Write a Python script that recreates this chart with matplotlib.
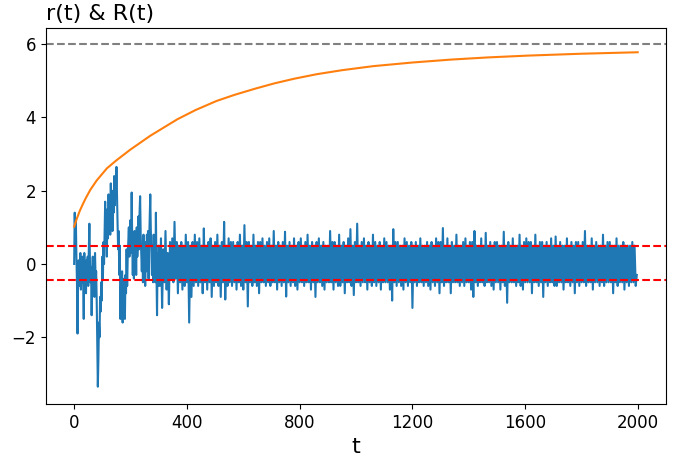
import numpy as np
import matplotlib
matplotlib.use("Agg")
import matplotlib.pyplot as plt

r_early = [
    0.0, 1.4, 0.6, 1.2, 0.2, -0.5, -1.9, -0.4, 0.1, -0.6,
    -0.2, 0.3, -0.7, 0.0, -0.5, 0.2, -0.4, -1.5, 0.3, -0.6,
    -0.2, -0.8, 0.1, -0.4, 0.2, -0.6, 0.4, 1.1, 0.1, -0.5,
    -0.1, -1.4, -0.4, 0.2, -0.7, -0.1, -0.9, 0.3, -0.4, -0.2,
    -1.0, -2.2, -3.35, -2.6, -1.6, -2.0, -0.9, -1.3, -0.5, -1.0,
    0.2, -0.4, 0.6, 0.0, 0.9, 1.7, 0.5, 1.2, 0.2, 1.5,
    0.7, 1.9, 1.0, 1.5, 0.8, 2.2, 1.3, 1.7, 0.9, 2.0,
    1.4, 2.4, 1.6, 2.2, 1.9, 2.65, 1.8, 1.1, 0.4, 0.9,
    -0.3, 0.5, -1.5, -0.6, -1.2, -0.2, -1.6, -0.5, -1.1, -0.4,
    -1.5, -0.3, -0.8, 0.4, -0.6, 0.2, 0.6, 1.0, 0.2, 0.7,
    1.2, 0.3, 1.95, 0.6, -0.3, 0.7, -0.4, 0.9, 0.0, 0.6,
    -0.3, 1.0, 0.2, 0.6, 1.3, 0.4, 1.4, 1.85, 0.8, 0.3,
    -0.2, 0.5, -0.5, 0.8, 0.1, 0.6, -0.6, 0.6, -0.2, 0.8,
    0.0, 0.9, -0.4, 0.6, 1.2, 1.9, 0.9, 0.3, -0.3, 0.5,
    -0.5, 0.8, 0.1, 0.7, -0.5, 1.4, -0.2, -1.4, 0.3, -0.6,
]

# r(t) from step 300 on, every 4 steps, one row per 100 steps
r_late = [
    0.5, -0.6, 0.7, -1.2, 0.4, -0.5, 0.9, -0.7, 0.3, -1.1, 0.6, -0.4, 0.7, -0.5, 1.15, -0.4, 0.6, -0.8, 0.5, -0.5, 0.6, -0.7, 0.5, -0.6, 0.8,
    -0.5, 0.6, -1.6, 0.5, -0.9, 0.6, -0.6, 0.8, -0.5, 0.6, -0.6, 0.7, -0.5, 0.5, -0.8, 0.97, -0.5, 0.5, -0.7, 0.6, -0.5, 0.7, -0.9, 0.5, -0.6,
    0.6, -0.5, 0.8, -0.6, 0.5, -0.9, 0.6, -0.5, 1.15, -0.97, 0.5, -0.6, 0.7, -0.5, 0.6, -0.6, 0.6, -0.5, 0.5, -0.7, 0.6, -0.5, 0.8, -0.6, 0.5,
    -0.7, 1.06, -0.5, 0.6, -1.16, 0.6, -0.5, 0.5, -0.6, 0.8, -0.5, 0.5, -0.6, 0.6, -0.8, 0.6, -0.5, 0.7, -0.5, 0.5, -0.6, 0.6, -0.5, 0.7, -0.6,
    0.5, -0.5, 0.9, -0.5, 0.5, -0.7, 0.6, -0.5, 0.5, -0.6, 0.6, -0.5, 0.88, -0.89, 0.5, -0.5, 0.6, -0.6, 0.5, -0.5, 0.7, -0.6, 0.5, -0.7, 0.6,
    -0.5, 0.7, -0.5, 0.5, -0.6, 0.6, -0.5, 0.8, -0.5, 0.5, -0.7, 0.6, -0.5, 0.5, -0.9, 0.6, -0.5, 0.7, -0.5, 0.5, -0.6, 0.6, -0.7, 0.5, -0.5,
    0.5, -0.5, 0.9, -0.5, 0.6, -0.7, 0.6, -0.5, 0.5, -0.6, 0.8, -0.6, 0.5, -0.5, 0.6, -0.8, 0.5, -0.5, 0.7, -0.5, 0.95, -0.6, 0.5, -0.85, 0.6,
    -0.5, 1.1, -0.5, 0.5, -0.6, 0.6, -0.5, 0.7, -0.5, 0.5, -0.7, 0.6, -0.5, 0.5, -0.6, 0.8, -0.5, 0.6, -0.6, 0.5, -0.5, 0.6, -0.7, 0.5, -0.5,
    0.7, -0.5, 0.6, -0.5, 0.5, -0.7, 0.5, -1.0, 0.95, -0.5, 0.6, -0.6, 0.6, -0.5, 0.5, -0.6, 0.5, -0.7, 0.7, -0.5, 0.6, -0.6, 0.5, -0.5, 0.6,
    -1.2, 0.5, -0.5, 0.6, -0.6, 0.5, -0.5, 0.7, -0.5, 0.5, -0.6, 0.5, -0.5, 0.6, -0.6, 0.5, -0.7, 0.6, -0.5, 0.5, -0.6, 0.7, -0.5, 0.6, -0.8,
    0.6, -0.5, 0.98, -0.6, 0.5, -0.5, 0.7, -0.5, 0.5, -0.8, 0.6, -0.5, 0.5, -0.5, 0.8, -0.5, 0.5, -0.6, 0.5, -0.5, 0.6, -0.6, 0.7, -0.5, 0.5,
    -0.5, 0.6, -0.7, 0.6, -0.9, 0.9, -0.5, 0.5, -0.6, 0.5, -0.5, 0.7, -0.5, 0.5, -0.6, 0.85, -0.5, 0.5, -0.5, 0.6, -0.6, 0.5, -0.7, 0.6, -0.5,
    0.6, -0.5, 0.5, -0.7, 0.5, -0.5, 0.88, -0.6, 0.5, -1.06, 0.6, -0.5, 0.5, -0.5, 0.7, -0.5, 0.5, -0.6, 0.5, -0.5, 0.8, -0.6, 0.5, -0.7, 0.6,
    -0.5, 0.7, -0.5, 0.6, -0.5, 0.6, -0.8, 0.5, -0.5, 0.8, -0.5, 0.5, -0.6, 0.6, -0.5, 0.6, -0.9, 0.5, -0.5, 0.6, -0.6, 0.5, -0.5, 0.7, -0.5,
    0.5, -0.6, 0.75, -0.6, 0.5, -0.5, 0.6, -0.5, 0.5, -0.7, 0.5, -0.5, 0.7, -0.5, 0.5, -0.6, 0.6, -0.5, 0.5, -0.8, 0.6, -0.5, 0.6, -0.6, 0.5,
    -0.5, 0.6, -0.5, 0.9, -0.6, 0.5, -0.5, 0.5, -0.5, 0.7, -0.7, 0.5, -0.5, 0.6, -0.5, 0.5, -0.6, 0.5, -0.5, 0.8, -0.6, 0.5, -0.5, 0.6, -0.5,
    0.6, -0.5, 0.5, -0.8, 0.5, -0.5, 0.7, -0.6, 0.5, -0.5, 0.5, -0.5, 0.6, -0.7, 0.5, -0.5, 0.5, -0.6, 0.5, -0.5, 0.6, -0.5, 0.5, -0.6, -0.3,
]
t_early = np.arange(len(r_early)) * 2
t_late = 300 + np.arange(len(r_late)) * 4

# R(t)
t_R = [0, 10, 20, 30, 40, 57, 80, 116, 150, 199, 270, 366, 430, 505, 570, 644,
       710, 782, 860, 950, 1060, 1200, 1337, 1470, 1614, 1800, 1999]
R_vals = [1.02, 1.25, 1.45, 1.62, 1.78, 2.02, 2.28, 2.61, 2.83, 3.12, 3.5, 3.95, 4.2, 4.45, 4.62, 4.79,
          4.93, 5.06, 5.18, 5.29, 5.40, 5.50, 5.58, 5.64, 5.69, 5.74, 5.78]

R_max = 6.0
band_hi = 0.48
band_lo = -0.45
xticks = [0, 400, 800, 1200, 1600, 2000]

fig = plt.figure(figsize=(6.76, 4.68), dpi=100)
ax = fig.add_axes([0.068, 0.137, 0.917, 0.803])

ax.plot(np.concatenate([t_early, t_late]), r_early + r_late, color='#1f77b4', lw=1.5)
ax.plot(t_R, R_vals, color='#ff7f0e', lw=1.5)
ax.axhline(R_max, color='gray', ls='--')
ax.axhline(band_hi, color='r', ls='--')
ax.axhline(band_lo, color='r', ls='--')

ax.set_xticks(xticks)
ax.set_xlim(-100, 2099)
ax.set_ylim(-3.82, 6.44)
ax.tick_params(labelsize=12)
ax.set_xlabel('t', fontsize=16)
ax.set_title('r(t) & R(t)', loc='left', fontsize=16)

fig.savefig('out.png', dpi=100)
